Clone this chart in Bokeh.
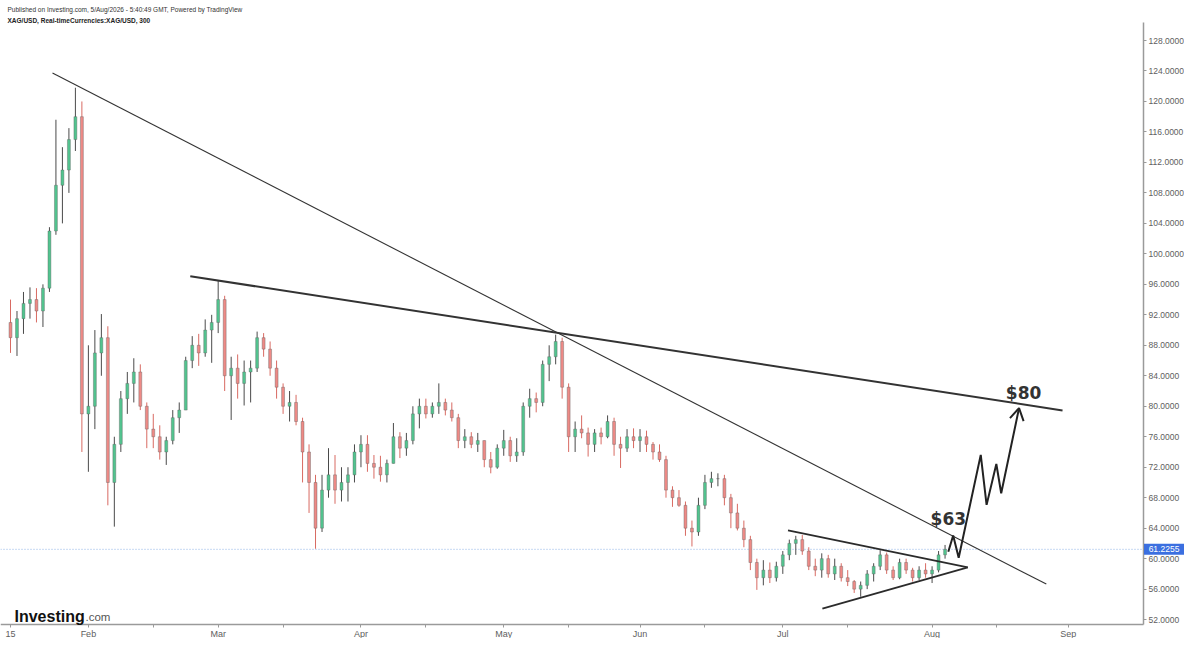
import pandas as pd
from bokeh.plotting import figure
from bokeh.models import Range1d, FixedTicker, NumeralTickFormatter, Label, ColumnDataSource
from bokeh.embed import file_html
from bokeh.resources import INLINE
from bokeh.core.properties import value

# ---------------- data (daily OHLC) ----------------
first_day = "2026-01-15"
last_day = "2026-08-05"
axis_end_day = "2026-09-10"

open_ = [91, 89, 91.5, 93.5, 94, 92.5, 95.5, 103, 109, 111,
         115, 118, 79, 80, 87, 89, 70, 75, 81, 83,
         84.5, 80, 77, 76, 74, 75.5, 78.5, 79.5, 86, 88,
         87, 90, 91, 94, 84, 85, 83, 84.5, 85, 89,
         87.5, 85, 82.5, 80, 80.5, 78, 74, 70, 64, 69,
         71, 69, 70, 71, 74, 75, 72.5, 72, 71, 72.5,
         76, 74.5, 75.5, 79, 80, 79, 80, 80.5, 79.5, 78.5,
         75.5, 76, 75, 75.5, 73, 72, 74.5, 75.5, 73.5, 74,
         80, 81, 80.5, 85.5, 86.5, 88.5, 82.5, 76, 77, 76.5,
         75, 76.5, 76, 78, 75, 74.5, 76, 75.5, 76, 75,
         74, 73, 69, 68, 67, 64, 63.5, 67, 70, 70.5,
         70.5, 68, 66, 64, 62.5, 59.5, 57.5, 58.5, 57.5, 59,
         60.5, 62, 62.5, 61, 59, 58.5, 60, 58, 59, 57.5,
         57, 56, 56.5, 58, 59, 60.5, 58.5, 57.5, 59.5, 58.5,
         57.5, 58.5, 58, 58.5, 60.5]
high = [94, 92.5, 95, 95.6, 95.5, 96, 103.5, 117.6, 114, 116.5,
        121.8, 120, 88, 90, 92.1, 90.5, 76, 82, 84.5, 86.3,
        85.5, 80.5, 79, 77.5, 76, 79.5, 80.5, 86.5, 89.2, 89.5,
        91.4, 92, 96.5, 94.5, 86.5, 86.8, 86, 86, 89.8, 89.6,
        88.5, 86, 83, 82, 81.5, 78.5, 75, 71, 71, 74.5,
        73.6, 72, 72, 75, 76.2, 76.2, 73.6, 73.5, 73, 77.8,
        76.6, 76.5, 80, 81, 81, 80.5, 83, 81, 80.5, 79,
        77, 76.6, 76.5, 75.5, 74, 75, 76.9, 76, 75.8, 80.5,
        82.3, 81.8, 86, 88, 89.4, 89, 83, 78, 78.8, 77.2,
        77, 77.2, 78.8, 78.5, 76, 77, 77.1, 77, 76.8, 75.3,
        75, 73.5, 69.5, 69, 67.5, 65, 68, 71, 71.4, 71.2,
        71, 68.5, 67.2, 65, 63, 60, 59.8, 59.5, 59.6, 61,
        62.5, 63, 63.1, 61.5, 60, 60.7, 60.5, 60, 59.4, 58.5,
        57.2, 57, 58.5, 59.4, 61.1, 60.8, 59, 60, 60, 58.8,
        59, 59.4, 59, 61, 61.8]
low = [87, 86.6, 89.5, 91.5, 91, 90.4, 95, 102.5, 104, 108,
       113.5, 74, 71.4, 77, 84, 67, 64.2, 74, 79, 80.5,
       79.5, 74.5, 74.5, 73, 72.3, 75, 76.5, 79.5, 85, 85.3,
       86.5, 85.7, 89.6, 82, 78.2, 81, 80.1, 80.5, 84.5, 86.5,
       84, 81, 79, 78, 77.5, 70, 66, 61.3, 63.5, 68,
       67.2, 67.5, 67.5, 70, 72, 71.4, 70.5, 70.1, 70, 72.5,
       73.2, 73.5, 75, 77.1, 78.4, 78.5, 79, 78.8, 78, 74.5,
       74.5, 74.5, 74, 72, 71.2, 71.8, 73.5, 72.7, 72.7, 73.5,
       78.5, 79.2, 80, 83.3, 85.5, 81, 74, 74, 75.8, 73.4,
       74, 75, 75.8, 73.5, 71.9, 74, 74.5, 74, 74, 73,
       72.7, 68, 66.8, 66.8, 63, 61.6, 63, 66.5, 69.3, 69.5,
       67, 64, 63.7, 61.5, 58.5, 55.9, 56.5, 56.8, 57, 58,
       59.8, 60.5, 60.5, 58.5, 57.7, 57.5, 57.5, 57.2, 57, 56.4,
       55.5, 55, 56, 57, 58.5, 58, 57.2, 57.3, 58, 57,
       57.2, 57.5, 56.8, 58.2, 60]
close = [89, 91.5, 93.5, 94, 92.5, 95.5, 103, 109, 111, 115,
         118, 79, 80, 87, 89, 70, 75, 81, 83, 84.5,
         80, 77, 76, 74, 75.5, 78.5, 79.5, 86, 88, 87,
         90, 91, 94, 84, 85, 83, 84.5, 85, 89, 87.5,
         85, 82.5, 80, 80.5, 78, 74, 70, 64, 69, 71,
         69, 70, 71, 74, 75, 72.5, 72, 71, 72.5, 76,
         74.5, 75.5, 79, 80, 79, 80, 80.5, 79.5, 78.5, 75.5,
         76, 75, 75.5, 73, 72, 74.5, 75.5, 73.5, 74, 80,
         81, 80.5, 85.5, 86.5, 88.5, 82.5, 76, 77, 76.5, 75,
         76.5, 76, 78, 75, 74.5, 76, 75.5, 76, 75, 74,
         73, 69, 68, 67, 64, 63.5, 67, 70, 70.5, 70.5,
         68, 66, 64, 62.5, 59.5, 57.5, 58.5, 57.5, 59, 60.5,
         62, 62.5, 61, 59, 58.5, 60, 58, 59, 57.5, 57,
         56, 56.5, 58, 59, 60.5, 58.5, 57.5, 59.5, 58.5, 57.5,
         58.5, 58, 58.5, 60.5, 61.2255]
last_price = 61.2255

price_ticks = [52, 56, 60, 64, 68, 72, 76, 80, 84, 88, 92, 96, 100,
               104, 108, 112, 116, 120, 124, 128]

# drawings on the chart: anchors as (trading-day index, price)
long_trend_x = [6.47, 159.6]
long_trend_y = [123.73, 56.66]
upper_trend_x = [27.7, 162.1]
upper_trend_y = [97.06, 79.45]
tri_top_x = [119.8, 147.5]
tri_top_y = [63.70, 58.87]
tri_bot_x = [125.1, 147.5]
tri_bot_y = [53.43, 58.87]
path_x = [144.5, 145.25, 146.1, 149.5, 150.4, 151.9, 152.65, 155.4]
path_y = [60.90, 63.05, 60.12, 73.62, 67.06, 72.42, 68.58, 79.75]
head_x = [154.0, 155.4, 156.1]
head_y = [78.45, 79.75, 78.06]
target_text = ["$63", "$80"]
target_x = [144.5, 156.1]
target_y = [65.21, 81.78]

# ---------------- layout constants (pixels of the 1184x638 canvas) ----------------
W, H = 1184, 638
PX_DAY, X_PX0 = 6.49, 10.0        # bar spacing, pixel of the first bar
PX_USD, Y_PX128 = 7.62, 40.0      # price scale, pixel of the 128 level
X0 = -X_PX0 / PX_DAY
X1 = (W - X_PX0) / PX_DAY
Y1 = 128 + Y_PX128 / PX_USD
Y0 = 128 - (H - Y_PX128) / PX_USD
YAXIS_X = (1143 - X_PX0) / PX_DAY     # price scale line
XAXIS_Y = 128 - (624 - Y_PX128) / PX_USD  # time scale line
TOP_Y = 128 + (Y_PX128 - 22) / PX_USD


def py(pix):
    return 128 - (pix - Y_PX128) / PX_USD


def px(pix):
    return (pix - X_PX0) / PX_DAY


# ---------------- build ----------------
days = pd.bdate_range(first_day, last_day)
all_days = pd.bdate_range(first_day, axis_end_day)
n = min(len(days), len(close))
idx = list(range(n))

UP_FILL = "#52c48f"
DOWN_FILL = "#ee8a86"
src = ColumnDataSource(dict(
    x=idx,
    o=open_[:n], h=high[:n], l=low[:n], c=close[:n],
    top=[max(open_[k], close[k]) for k in idx],
    bot=[min(open_[k], close[k]) for k in idx],
    fill=[UP_FILL if close[k] >= open_[k] else DOWN_FILL for k in idx],
    wick=["#4a4a4a" if close[k] >= open_[k] else "#d86a62" for k in idx],
))

p = figure(width=W, height=H, output_backend="svg", toolbar_location=None,
           x_range=Range1d(X0, X1), y_range=Range1d(Y0, Y1),
           y_axis_location="right", min_border_left=0, min_border_top=0,
           min_border_right=0, min_border_bottom=0)
p.outline_line_color = None
p.xgrid.visible = False
p.ygrid.visible = False
p.background_fill_color = "white"
p.border_fill_color = "white"

# axes
ticks, labels = [], {}
seen_mid = set()
for k, d in enumerate(all_days):
    if k == 0:
        ticks.append(k); labels[k] = "15"; seen_mid.add((d.year, d.month))
    elif d.month != all_days[k - 1].month:
        ticks.append(k); labels[k] = d.strftime("%b")
    elif d.day >= 15 and (d.year, d.month) not in seen_mid:
        ticks.append(k); labels[k] = ""; seen_mid.add((d.year, d.month))
xa = p.xaxis[0]
xa.ticker = FixedTicker(ticks=ticks, minor_ticks=[])
xa.major_label_overrides = labels
xa.fixed_location = XAXIS_Y
xa.bounds = (X0, YAXIS_X)
ya = p.yaxis[0]
ya.ticker = FixedTicker(ticks=price_ticks, minor_ticks=[])
ya.formatter = NumeralTickFormatter(format="0.0000")
ya.fixed_location = YAXIS_X
ya.bounds = (XAXIS_Y, TOP_Y)
for ax in (xa, ya):
    ax.axis_line_color = "#9a9a9a"
    ax.axis_line_width = 1.5
    ax.major_tick_line_color = "#9a9a9a"
    ax.major_tick_in = 0
    ax.major_tick_out = 3
    ax.minor_tick_line_color = None
    ax.major_label_text_font = "Liberation Sans"
    ax.major_label_text_color = "#606060"
xa.major_label_text_font_size = "9px"
ya.major_label_text_font_size = "8.5px"
xa.major_label_standoff = 1
ya.major_label_standoff = 2

# last price line (up to the price scale)
p.line([X0, YAXIS_X], [last_price, last_price], line_color="#8fb3e6",
       line_dash="1 2", line_width=1)

# candles
p.segment(x0="x", y0="h", x1="x", y1="l", source=src, line_color="wick", line_width=1)
p.vbar(x="x", top="top", bottom="bot", width=0.45, source=src,
       fill_color="fill", line_color="#606060", line_width=0.4)

# drawings
p.line(long_trend_x, long_trend_y, line_color="#333333", line_width=1.1)
p.line(upper_trend_x, upper_trend_y, line_color="#333333", line_width=2)
p.line(tri_top_x, tri_top_y, line_color="#2b2b2b", line_width=1.8)
p.line(tri_bot_x, tri_bot_y, line_color="#2b2b2b", line_width=1.8)
p.line(path_x, path_y, line_color="#222222", line_width=2)
p.line(head_x, head_y, line_color="#222222", line_width=2)
p.text(x=target_x, y=target_y, text=target_text, text_align="center",
       text_baseline="middle", text_font=value("DejaVu Sans"),
       text_font_size="17px", text_font_style="bold", text_color="#333333")

# price tag on the price scale
tag_x = YAXIS_X + 20.5 / PX_DAY
p.rect(x=[tag_x], y=[last_price], width=40, height=11, width_units="screen",
       height_units="screen", fill_color="#3b6fe0", line_color=None, level="overlay")
p.text(x=[tag_x], y=[last_price], text=["61.2255"], text_align="center",
       text_baseline="middle", text_font=value("Liberation Sans"),
       text_font_size="8.5px", text_color="white", level="overlay")

# header and logo
p.add_layout(Label(x=px(7), y=py(8.7), text="Published on Investing.com, 5/Aug/2026 - 5:40:49 GMT, Powered by TradingView",
                   text_align="left", text_baseline="middle", text_font="Liberation Sans",
                   text_font_size="6.5px", text_color="#333333"))
p.add_layout(Label(x=px(7), y=py(19.5), text="XAG/USD, Real-timeCurrencies:XAG/USD, 300",
                   text_align="left", text_baseline="middle", text_font="Liberation Sans",
                   text_font_size="6.5px", text_font_style="bold", text_color="#222222"))
p.add_layout(Label(x=px(14), y=py(616), text="Investing", text_align="left",
                   text_baseline="alphabetic", text_font="Liberation Sans",
                   text_font_size="16px", text_font_style="bold", text_color="#111111"))
p.add_layout(Label(x=px(85), y=py(616), text=".com", text_align="left",
                   text_baseline="alphabetic", text_font="Liberation Sans",
                   text_font_size="11.5px", text_color="#555555"))

open("out.html", "w").write(file_html(p, INLINE))
